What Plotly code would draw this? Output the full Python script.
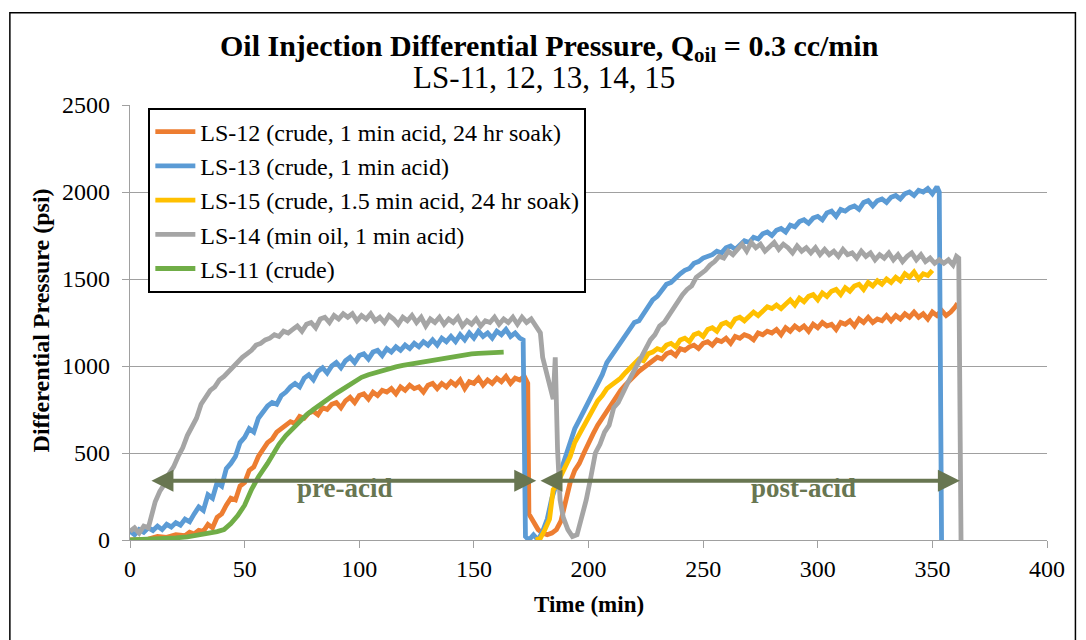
import plotly.graph_objects as go

# ---------------- data ----------------
t_ls12 = [0, 4, 8, 12, 16, 20, 24, 26, 28, 30, 32, 34, 36, 38, 40, 42, 44, 46, 48, 50,
          52, 54, 56, 58, 60, 62, 64, 66, 68, 70, 72, 74, 76, 78, 80, 82, 84, 86, 88, 90,
          92, 94, 96, 98, 100, 102, 104, 106, 108, 110, 112, 114, 116, 118, 120, 122, 124, 126, 128, 130,
          132, 134, 136, 138, 140, 142, 144, 146, 148, 150, 152, 154, 156, 158, 160, 162, 164, 166, 168, 170,
          172, 173.5, 174, 176, 178, 180, 182, 184, 186, 188, 190, 192, 194, 196, 198, 200, 202, 204, 206, 208,
          210, 212, 214, 216, 218, 220, 222, 224, 226, 228, 230, 232, 234, 236, 238, 240, 242, 244, 246, 248,
          250, 252, 254, 256, 258, 260, 262, 264, 266, 268, 270, 272, 274, 276, 278, 280, 282, 284, 286, 288,
          290, 292, 294, 296, 298, 300, 302, 304, 306, 308, 310, 312, 314, 316, 318, 320, 322, 324, 326, 328,
          330, 332, 334, 336, 338, 340, 342, 344, 346, 348, 350, 352, 354, 356, 358, 360, 361]
p_ls12 = [0, 0, 5, 20, 15, 30, 25, 45, 35, 55, 50, 90, 70, 130, 150, 200, 240, 230, 310, 330,
          400, 420, 480, 520, 560, 580, 620, 640, 660, 680, 670, 710, 700, 730, 740, 720, 760, 750, 780, 790,
          760, 800, 820, 790, 830, 840, 810, 850, 830, 860, 850, 870, 840, 880, 860, 890, 870, 880, 850, 890,
          900, 870, 900, 880, 910, 890, 920, 870, 910, 900, 930, 890, 920, 900, 930, 910, 940, 900, 930, 920,
          940, 900, 150, 110, 60, 40, 30, 40, 60, 110, 220, 330, 400, 440, 500, 560, 610, 660, 700, 750,
          790, 820, 860, 890, 920, 950, 970, 990, 1010, 1030, 1050, 1040, 1070, 1080, 1060, 1100, 1090, 1110, 1120, 1100,
          1130, 1140, 1120, 1150, 1140, 1160, 1130, 1170, 1160, 1180, 1170, 1150, 1190, 1180, 1200, 1190, 1210, 1180, 1220, 1200,
          1230, 1210, 1230, 1200, 1240, 1220, 1250, 1230, 1240, 1210, 1250, 1240, 1260, 1230, 1270, 1250, 1280, 1250, 1270, 1260,
          1290, 1260, 1290, 1270, 1300, 1280, 1310, 1280, 1300, 1270, 1310, 1290, 1320, 1290, 1310, 1340, 1360]

t_ls13 = [0, 2, 4, 6, 8, 10, 12, 14, 16, 18, 20, 22, 24, 26, 28, 30, 32, 34, 36, 38,
          40, 42, 44, 46, 48, 50, 52, 54, 56, 58, 60, 62, 64, 66, 68, 70, 72, 74, 76, 78,
          80, 82, 84, 86, 88, 90, 92, 94, 96, 98, 100, 102, 104, 106, 108, 110, 112, 114, 116, 118,
          120, 122, 124, 126, 128, 130, 132, 134, 136, 138, 140, 142, 144, 146, 148, 150, 152, 154, 156, 158,
          160, 162, 164, 166, 168, 170, 171.5, 172.5, 174, 176, 178, 180, 182, 184, 186, 188, 190, 192, 194, 196,
          198, 200, 202, 204, 206, 208, 210, 212, 214, 216, 218, 220, 222, 224, 226, 228, 230, 232, 234, 236,
          238, 240, 242, 244, 246, 248, 250, 252, 254, 256, 258, 260, 262, 264, 266, 268, 270, 272, 274, 276,
          278, 280, 282, 284, 286, 288, 290, 292, 294, 296, 298, 300, 302, 304, 306, 308, 310, 312, 314, 316,
          318, 320, 322, 324, 326, 328, 330, 332, 334, 336, 338, 340, 342, 344, 346, 348, 350, 352, 353, 354]
p_ls13 = [50, 30, 60, 45, 70, 55, 80, 60, 90, 75, 100, 85, 120, 105, 150, 190, 170, 260, 240, 330,
          310, 410, 440, 480, 560, 590, 640, 620, 700, 740, 770, 790, 780, 830, 850, 880, 900, 880, 930, 950,
          920, 970, 990, 960, 1000, 1020, 990, 1030, 1050, 1020, 1060, 1070, 1040, 1080, 1090, 1060, 1100, 1080, 1110, 1090,
          1120, 1100, 1130, 1110, 1140, 1120, 1150, 1120, 1160, 1140, 1170, 1140, 1180, 1150, 1190, 1160, 1200, 1170, 1190, 1160,
          1200, 1180, 1210, 1170, 1190, 1160, 1150, 20, 0, 30, 0, 50, 120, 240, 320, 420, 500, 560, 640, 690,
          740, 800, 840, 900, 950, 1020, 1060, 1090, 1130, 1170, 1210, 1250, 1260, 1300, 1330, 1380, 1400, 1430, 1470, 1480,
          1510, 1530, 1550, 1560, 1590, 1600, 1620, 1630, 1640, 1660, 1650, 1680, 1690, 1670, 1700, 1720, 1710, 1740, 1730, 1760,
          1770, 1750, 1780, 1790, 1770, 1810, 1800, 1830, 1840, 1820, 1850, 1860, 1840, 1880, 1890, 1860, 1900, 1890, 1910, 1920,
          1900, 1940, 1950, 1920, 1950, 1960, 1940, 1970, 1980, 1960, 1990, 2000, 1980, 2010, 2000, 2020, 1990, 2030, 2000, 0]

t_ls15 = [177, 179, 181, 183, 184.6, 186, 188, 190, 192, 194, 196, 198, 200, 202, 204, 206, 208, 210, 212, 214,
          216, 218, 220, 222, 224, 226, 228, 230, 232, 234, 236, 238, 240, 242, 244, 246, 248, 250, 252, 254,
          256, 258, 260, 262, 264, 266, 268, 270, 272, 274, 276, 278, 280, 282, 284, 286, 288, 290, 292, 294,
          296, 298, 300, 302, 304, 306, 308, 310, 312, 314, 316, 318, 320, 322, 324, 326, 328, 330, 332, 334,
          336, 338, 340, 342, 344, 346, 348, 350]
p_ls15 = [0, 10, 60, 120, 290, 310, 370, 430, 480, 560, 610, 660, 710, 760, 800, 830, 870, 890, 910, 930,
          960, 990, 1010, 1040, 1030, 1070, 1080, 1100, 1090, 1120, 1130, 1110, 1150, 1160, 1140, 1180, 1190, 1170, 1210, 1220,
          1200, 1240, 1250, 1230, 1270, 1280, 1260, 1290, 1310, 1290, 1320, 1340, 1330, 1350, 1330, 1360, 1380, 1350, 1390, 1370,
          1400, 1410, 1380, 1420, 1400, 1430, 1440, 1410, 1450, 1430, 1460, 1470, 1440, 1480, 1460, 1490, 1470, 1500, 1480, 1510,
          1490, 1530, 1510, 1540, 1500, 1530, 1520, 1550]

t_ls14 = [0, 2, 4, 6, 8, 9.5, 11, 13, 15, 17, 19, 21, 23, 25, 27, 29, 31, 33, 35, 37,
          39, 41, 43, 45, 47, 49, 51, 53, 55, 57, 59, 61, 63, 65, 67, 69, 71, 73, 75, 77,
          79, 81, 83, 85, 87, 89, 91, 93, 95, 97, 99, 101, 103, 105, 107, 109, 111, 113, 115, 117,
          119, 121, 123, 125, 127, 129, 131, 133, 135, 137, 139, 141, 143, 145, 147, 149, 151, 153, 155, 157,
          159, 161, 163, 165, 167, 169, 171, 173, 175, 177, 179, 180, 181.5, 183, 184.6, 185.5, 186.5, 187.6, 189, 191,
          193, 195, 197, 199, 201, 203, 205, 207, 209, 211, 213, 215, 217, 219, 221, 223, 225, 227, 229, 231,
          233, 235, 237, 239, 241, 243, 245, 247, 249, 251, 253, 255, 257, 259, 261, 263, 265, 267, 269, 271,
          273, 275, 277, 279, 281, 283, 285, 287, 289, 291, 293, 295, 297, 299, 301, 303, 305, 307, 309, 311,
          313, 315, 317, 319, 321, 323, 325, 327, 329, 331, 333, 335, 337, 339, 341, 343, 345, 347, 349, 351,
          353, 355, 357, 359, 360.5, 361.5, 362.5]
p_ls14 = [50, 70, 40, 80, 70, 150, 220, 280, 320, 380, 420, 480, 530, 600, 650, 700, 780, 820, 860, 880,
          920, 940, 970, 1000, 1030, 1050, 1070, 1090, 1120, 1130, 1150, 1160, 1180, 1170, 1200, 1190, 1210, 1230, 1200, 1240,
          1250, 1220, 1270, 1280, 1250, 1290, 1270, 1300, 1280, 1300, 1260, 1290, 1270, 1300, 1260, 1280, 1250, 1290, 1270, 1240,
          1280, 1260, 1290, 1250, 1280, 1230, 1270, 1250, 1280, 1240, 1270, 1250, 1280, 1230, 1260, 1240, 1270, 1230, 1260, 1250,
          1280, 1240, 1270, 1250, 1280, 1240, 1280, 1250, 1270, 1230, 1190, 1050, 980, 900, 810, 1050, 520, 230, 130, 60,
          20, 30, 120, 230, 360, 500, 550, 620, 660, 760, 790, 850, 900, 950, 1000, 1040, 1100, 1150, 1180, 1230,
          1250, 1290, 1340, 1370, 1410, 1440, 1460, 1510, 1530, 1550, 1580, 1600, 1630, 1620, 1660, 1640, 1670, 1700, 1660, 1710,
          1680, 1700, 1660, 1690, 1710, 1670, 1700, 1680, 1650, 1690, 1660, 1680, 1650, 1680, 1640, 1670, 1640, 1660, 1630, 1670,
          1640, 1650, 1620, 1660, 1630, 1650, 1610, 1640, 1620, 1650, 1610, 1640, 1600, 1630, 1650, 1610, 1640, 1600, 1620, 1590,
          1610, 1590, 1610, 1580, 1630, 1620, 0]

t_ls11 = [0, 5, 10, 15, 20, 25, 30, 35, 38, 41, 44, 47, 50, 53, 56, 60, 63, 65, 68, 71,
          74, 77, 80, 83, 86, 89, 92, 95, 98, 101, 104, 107, 110, 113, 116, 119, 122, 125, 128, 131,
          134, 137, 140, 143, 146, 149, 152, 155, 158, 161, 163]
p_ls11 = [0, 2, 4, 7, 12, 18, 27, 38, 48, 60, 95, 140, 200, 290, 362, 440, 510, 550, 600, 640,
          680, 720, 750, 780, 810, 835, 860, 885, 910, 935, 950, 962, 975, 985, 995, 1003, 1010, 1018, 1025, 1032,
          1040, 1046, 1052, 1058, 1064, 1070, 1073, 1075, 1077, 1078, 1080]

series_names = ["LS-12 (crude, 1 min acid, 24 hr soak)", "LS-13 (crude, 1 min acid)",
                "LS-15 (crude, 1.5 min acid, 24 hr soak)", "LS-14 (min oil, 1 min acid)", "LS-11 (crude)"]
series_colors = ["#ED7D31", "#5B9BD5", "#FFC000", "#A5A5A5", "#70AD47"]
series_t = [t_ls12, t_ls13, t_ls15, t_ls14, t_ls11]
series_p = [p_ls12, p_ls13, p_ls15, p_ls14, p_ls11]

x_ticks = [0, 50, 100, 150, 200, 250, 300, 350, 400]
y_ticks = [0, 500, 1000, 1500, 2000, 2500]

# phase arrows: (start, end, level) and labels
pre_arrow = (8.7, 177.2, 340)
post_arrow = (178.4, 362.0, 340)
pre_label = ("pre-acid", 93.8, 300)
post_label = ("post-acid", 293.6, 300)

# ---------------- figure ----------------
FONT = "Liberation Serif, Times New Roman, serif"
fig = go.Figure()
for name, col, tt, pp in zip(series_names, series_colors, series_t, series_p):
    fig.add_trace(go.Scatter(x=tt, y=pp, mode="lines", name=name,
                             line=dict(color=col, width=4.8)))

arrow_col = "#687651"
for (a0, a1, lv) in (pre_arrow, post_arrow):
    fig.add_annotation(x=a1, y=lv, ax=a0, ay=lv, xref="x", yref="y", axref="x", ayref="y",
                       text="", showarrow=True, arrowhead=2, arrowside="end+start",
                       arrowsize=1.1, arrowwidth=4, arrowcolor=arrow_col,
                       standoff=0, startstandoff=0)
for (txt, xx, yy) in (pre_label, post_label):
    fig.add_annotation(x=xx, y=yy, xref="x", yref="y", text="<b>%s</b>" % txt, showarrow=False,
                       font=dict(family=FONT, size=27, color=arrow_col), yanchor="middle")

# titles
fig.add_annotation(x=0.458, y=1.130, xref="paper", yref="paper", showarrow=False,
                   text="<b>Oil Injection Differential Pressure, Q<sub>oil</sub> = 0.3 cc/min</b>",
                   font=dict(family=FONT, size=30, color="black"), yanchor="middle")
fig.add_annotation(x=0.451, y=1.064, xref="paper", yref="paper", showarrow=False,
                   text="LS-11, 12, 13, 14, 15",
                   font=dict(family=FONT, size=31, color="black"), yanchor="middle")
fig.add_annotation(x=0.5, y=-0.149, xref="paper", yref="paper", showarrow=False,
                   text="<b>Time (min)</b>", font=dict(family=FONT, size=23, color="black"),
                   yanchor="middle")
fig.add_annotation(x=-0.097, y=0.505, xref="paper", yref="paper", showarrow=False,
                   text="<b>Differential Pressure (psi)</b>", textangle=-90,
                   font=dict(family=FONT, size=24, color="black"), xanchor="center", yanchor="middle")

# outer chart frame
fig.add_shape(type="rect", xref="paper", yref="paper", x0=-0.131, x1=1.031, y0=-0.4, y1=1.212,
              line=dict(color="black", width=1.5), fillcolor="rgba(0,0,0,0)")

grid_col = "#A0A0A0"
fig.update_xaxes(range=[0, 400], tickvals=x_ticks, showgrid=False, showline=True, linecolor=grid_col,
                 linewidth=1.3, ticks="outside", ticklen=7, tickcolor=grid_col, tickwidth=1.3,
                 tickfont=dict(family=FONT, size=24, color="black"), zeroline=False)
fig.update_yaxes(range=[0, 2500], tickvals=y_ticks, showgrid=True, gridcolor=grid_col, gridwidth=1.3,
                 showline=True, linecolor=grid_col, linewidth=1.3, ticks="outside", ticklen=7,
                 tickcolor=grid_col, tickwidth=1.3, zeroline=False, ticklabelstandoff=7,
                 tickfont=dict(family=FONT, size=24, color="black"))

fig.update_layout(
    width=1086, height=640, autosize=False,
    margin=dict(l=122, r=47, t=97, b=108),
    paper_bgcolor="white", plot_bgcolor="white",
    font=dict(family=FONT, color="black"),
    showlegend=True,
    legend=dict(x=0.02, y=0.994, xanchor="left", yanchor="top", bgcolor="white",
                bordercolor="black", borderwidth=2, font=dict(family=FONT, size=24, color="black"),
                tracegroupgap=0, itemwidth=40),
)

fig.write_html("out.html")
